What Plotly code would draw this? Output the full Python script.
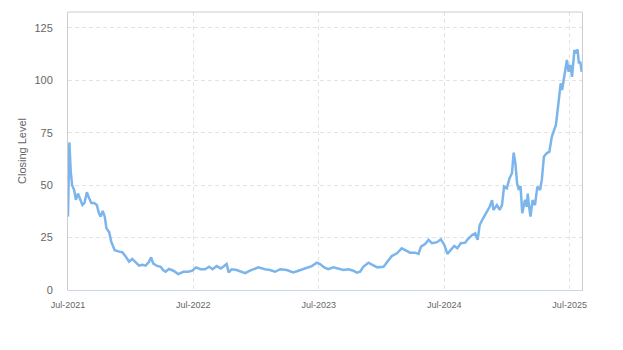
import plotly.graph_objects as go

dates = [
    "2021-07-01", "2021-07-05", "2021-07-09", "2021-07-13", "2021-07-19", "2021-07-24", "2021-07-30",
    "2021-08-07", "2021-08-12", "2021-08-18", "2021-08-25", "2021-08-31", "2021-09-07", "2021-09-15",
    "2021-09-23", "2021-09-29", "2021-10-04", "2021-10-10", "2021-10-16", "2021-10-21", "2021-10-29",
    "2021-11-04", "2021-11-08", "2021-11-14", "2021-11-27", "2021-12-06", "2021-12-16", "2021-12-26",
    "2022-01-04", "2022-01-14", "2022-01-24", "2022-02-02", "2022-02-12", "2022-02-22", "2022-02-28",
    "2022-03-06", "2022-03-16", "2022-03-28", "2022-04-04", "2022-04-11", "2022-04-21", "2022-05-04",
    "2022-05-18", "2022-06-02", "2022-06-16", "2022-06-28", "2022-07-09", "2022-07-22", "2022-08-04",
    "2022-08-16", "2022-08-26", "2022-09-07", "2022-09-19", "2022-09-26", "2022-10-06", "2022-10-12",
    "2022-10-21", "2022-11-04", "2022-11-16", "2022-11-29", "2022-12-13", "2023-01-06", "2023-01-26",
    "2023-02-09", "2023-02-24", "2023-03-11", "2023-03-30", "2023-04-18", "2023-05-03", "2023-05-17",
    "2023-05-27", "2023-06-11", "2023-06-26", "2023-07-05", "2023-07-17", "2023-07-29", "2023-08-13",
    "2023-08-27", "2023-09-11", "2023-09-26", "2023-10-10", "2023-10-20", "2023-10-30", "2023-11-08",
    "2023-11-23", "2023-12-06", "2023-12-19", "2024-01-06", "2024-01-17", "2024-01-30", "2024-02-14",
    "2024-02-28", "2024-03-12", "2024-03-23", "2024-04-07", "2024-04-17", "2024-04-24", "2024-05-06",
    "2024-05-16", "2024-05-26", "2024-06-10", "2024-06-21", "2024-07-01", "2024-07-10", "2024-07-18",
    "2024-07-30", "2024-08-08", "2024-08-18", "2024-08-31", "2024-09-07", "2024-09-20", "2024-09-29",
    "2024-10-06", "2024-10-12", "2024-10-22", "2024-10-31", "2024-11-10", "2024-11-17", "2024-11-21",
    "2024-12-01", "2024-12-09", "2024-12-16", "2024-12-22", "2024-12-30", "2025-01-07", "2025-01-14",
    "2025-01-19", "2025-01-24", "2025-01-29", "2025-02-03", "2025-02-08", "2025-02-13", "2025-02-21",
    "2025-02-26", "2025-03-01", "2025-03-05", "2025-03-09", "2025-03-15", "2025-03-22", "2025-03-29",
    "2025-04-06", "2025-04-11", "2025-04-17", "2025-04-25", "2025-05-03", "2025-05-10", "2025-05-16",
    "2025-05-22", "2025-05-26", "2025-06-01", "2025-06-05", "2025-06-09", "2025-06-15", "2025-06-19",
    "2025-06-23", "2025-06-28", "2025-07-03", "2025-07-08", "2025-07-13", "2025-07-15", "2025-07-20",
    "2025-07-24", "2025-07-28", "2025-08-01", "2025-08-05",
]

closing = [
    35.0, 70.4, 56.4, 50.0, 47.7, 43.0, 46.0,
    42.0, 40.5, 41.5, 46.6, 44.0, 41.5, 41.5,
    40.5, 36.7, 35.0, 37.7, 35.0, 29.4, 27.5,
    23.0, 21.5, 19.0, 18.3, 18.0, 16.0, 13.5,
    14.8, 13.2, 11.6, 12.0, 11.6, 13.5, 15.6,
    12.7, 11.6, 11.1, 9.5, 8.7, 10.0, 9.2,
    7.6, 8.7, 8.7, 9.2, 10.8, 9.9, 9.9,
    11.1, 9.9, 11.4, 10.3, 11.1, 12.4, 8.4,
    9.9, 9.5, 8.7, 8.0, 9.2, 10.8, 9.9,
    9.5, 8.7, 9.9, 9.5, 8.4, 9.2, 9.9,
    10.3, 11.4, 13.0, 12.4, 10.8, 9.9, 10.8,
    10.3, 9.5, 9.9, 9.2, 8.3, 8.7, 11.1,
    13.0, 11.9, 10.8, 11.1, 13.5, 16.2, 17.5,
    19.9, 18.8, 17.8, 17.8, 17.2, 20.7, 21.9,
    23.9, 22.3, 22.8, 24.2, 21.5, 17.2, 18.8,
    21.0, 19.9, 22.3, 22.6, 24.2, 26.2, 27.0,
    23.9, 31.0, 34.2, 36.6, 39.7, 42.9, 38.2,
    40.5, 38.2, 40.5, 49.3, 48.5, 53.3, 55.7,
    65.5, 60.4, 50.9, 47.7, 49.6, 36.6, 43.0,
    39.7, 46.0, 39.7, 35.0, 42.9, 40.5, 49.3,
    47.7, 52.5, 63.6, 65.2, 66.0, 73.1, 76.3,
    78.7, 84.3, 91.4, 98.6, 95.4, 101.0, 106.5,
    109.7, 104.1, 107.3, 101.7, 109.7, 114.5, 112.9,
    114.8, 108.1, 108.9, 104.1,
]

tick_dates = ["2021-07-01", "2022-07-01", "2023-07-01", "2024-07-01", "2025-07-01"]
tick_labels = ["Jul-2021", "Jul-2022", "Jul-2023", "Jul-2024", "Jul-2025"]
y_ticks = [0, 25, 50, 75, 100, 125]

fig = go.Figure()
fig.add_trace(go.Scatter(
    x=dates, y=closing, mode="lines",
    line=dict(color="#7cb5ec", width=2.5),
    showlegend=False,
))

fig.update_layout(
    width=623, height=350,
    margin=dict(l=68, r=41, t=12, b=60),
    paper_bgcolor="white", plot_bgcolor="white",
    font=dict(family="Liberation Sans, Arial, sans-serif", color="#666666"),
    xaxis=dict(
        range=["2021-07-01", "2025-08-06"],
        tickvals=tick_dates, ticktext=tick_labels,
        tickfont=dict(size=9, color="#666666"),
        showgrid=True, gridcolor="#e3e3e3", griddash="4px,3px", gridwidth=1,
        showline=True, linecolor="#ccd6eb", linewidth=1,
        ticks="", ticklabelstandoff=6,
        zeroline=False,
    ),
    yaxis=dict(
        range=[0, 132.6],
        tickvals=y_ticks,
        tickfont=dict(size=11, color="#666666"),
        showgrid=True, gridcolor="#e3e3e3", griddash="4px,3px", gridwidth=1,
        showline=True, linecolor="#cccccc", linewidth=1, mirror=True,
        ticks="", ticklabelstandoff=12,
        zeroline=False,
        title=dict(text="Closing Level", font=dict(size=11, color="#666666"), standoff=5),
    ),
    shapes=[dict(type="line", xref="paper", yref="paper", x0=0, x1=1, y0=1, y1=1,
                 line=dict(color="#cccccc", width=1))],
)

fig.write_html("out.html")
